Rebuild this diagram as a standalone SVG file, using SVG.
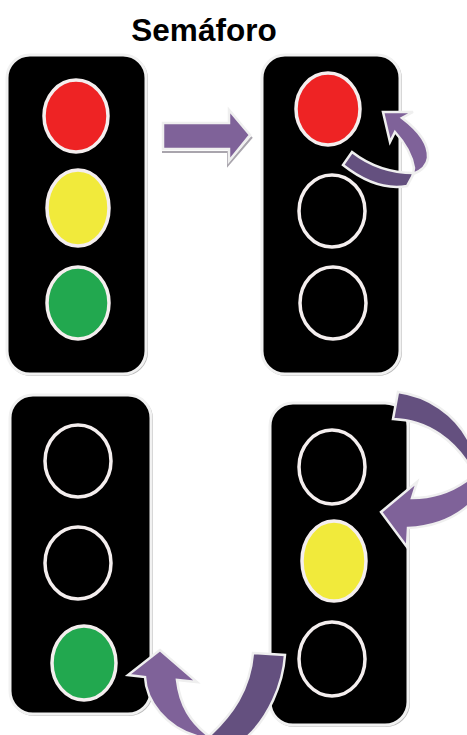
<svg xmlns="http://www.w3.org/2000/svg" width="467" height="735" viewBox="0 0 467 735">
<style>
text{font-family:"Liberation Sans",Arial,sans-serif;font-weight:700;font-size:31.5px;fill:#000}
.panel{fill:#000;stroke:#f1f1f1;stroke-width:3}
.pshadow{fill:none;stroke:#bdbdbd;stroke-width:2}
.lamp{stroke:#f4eeee;stroke-width:3.5}
.off{fill:#000}
.red{fill:#ee2324}
.yellow{fill:#f1ea3b}
.green{fill:#22a84f}
.light{fill:#7f6299;stroke:#efefef;stroke-width:2.5;stroke-linejoin:miter}
.dark{fill:#64507f;stroke:#efefef;stroke-width:2.5;stroke-linejoin:miter}
.ashadow{fill:none;stroke:#a9a5ad;stroke-width:2}
</style>
<text x="204" y="41" text-anchor="middle">Semáforo</text>

<g id="light-1">
<rect class="pshadow" x="8" y="56" width="139" height="319" rx="23"/>
<rect class="panel" x="7" y="55" width="139" height="319" rx="23"/>
<ellipse class="lamp red" cx="76" cy="116" rx="32" ry="36"/>
<ellipse class="lamp yellow" cx="78" cy="208" rx="31" ry="38"/>
<ellipse class="lamp green" cx="78" cy="303" rx="31" ry="36"/>
</g>
<g id="light-2">
<rect class="pshadow" x="263" y="56" width="138" height="319" rx="23"/>
<rect class="panel" x="262" y="55" width="138" height="319" rx="23"/>
<ellipse class="lamp red" cx="328" cy="109" rx="32" ry="36"/>
<ellipse class="lamp off" cx="332" cy="211" rx="33" ry="36"/>
<ellipse class="lamp off" cx="333" cy="303" rx="33" ry="36"/>
</g>
<g id="light-3">
<rect class="pshadow" x="11" y="396" width="141" height="319" rx="23"/>
<rect class="panel" x="10" y="395" width="141" height="319" rx="23"/>
<ellipse class="lamp off" cx="78" cy="461" rx="33" ry="36"/>
<ellipse class="lamp off" cx="78" cy="563" rx="33" ry="36"/>
<ellipse class="lamp green" cx="84" cy="663" rx="32" ry="37"/>
</g>
<g id="light-4">
<rect class="pshadow" x="271" y="404" width="138" height="322" rx="23"/>
<rect class="panel" x="270" y="403" width="138" height="322" rx="23"/>
<ellipse class="lamp off" cx="332" cy="467" rx="33" ry="37"/>
<ellipse class="lamp yellow" cx="334" cy="561" rx="32" ry="40"/>
<ellipse class="lamp off" cx="332" cy="659" rx="33" ry="37"/>
</g>

<g id="connectors">
<g id="arrow-right">
<path class="ashadow" d="M162 152H228V165L252 137"/>
<path class="light" d="M163 123H229V110L250 135L229 161V149H163Z"/>
</g>
<g id="arrow-loop-top">
<path class="dark" d="M352 152C370 166 392 173 414 173L407 186C384 190 362 180 343 165Z"/>
<path class="light" d="M383 112H413L402 118C418 130 429 143 428 158C427 166 421 171 413 174L414 168C412 155 405 143 395 132L390 142Z"/>
</g>
<g id="arrow-loop-right">
<path class="dark" d="M398 392C428 396 455 414 469 441V465C455 443 430 420 393 419Z"/>
<path class="light" d="M381 512L417 482L412 498C433 498 453 491 469 479V505C453 519 432 527 408 528L407 547Z"/>
</g>
<g id="arrow-loop-bottom">
<path class="dark" d="M253 653L285 655C283 685 268 718 247 737H208C232 715 250 690 253 653Z"/>
<path class="light" d="M160 650L128 675L145 677C146 700 165 728 200 737H210C190 722 180 705 177 680L197 682Z"/>
</g>
</g>
</svg>
